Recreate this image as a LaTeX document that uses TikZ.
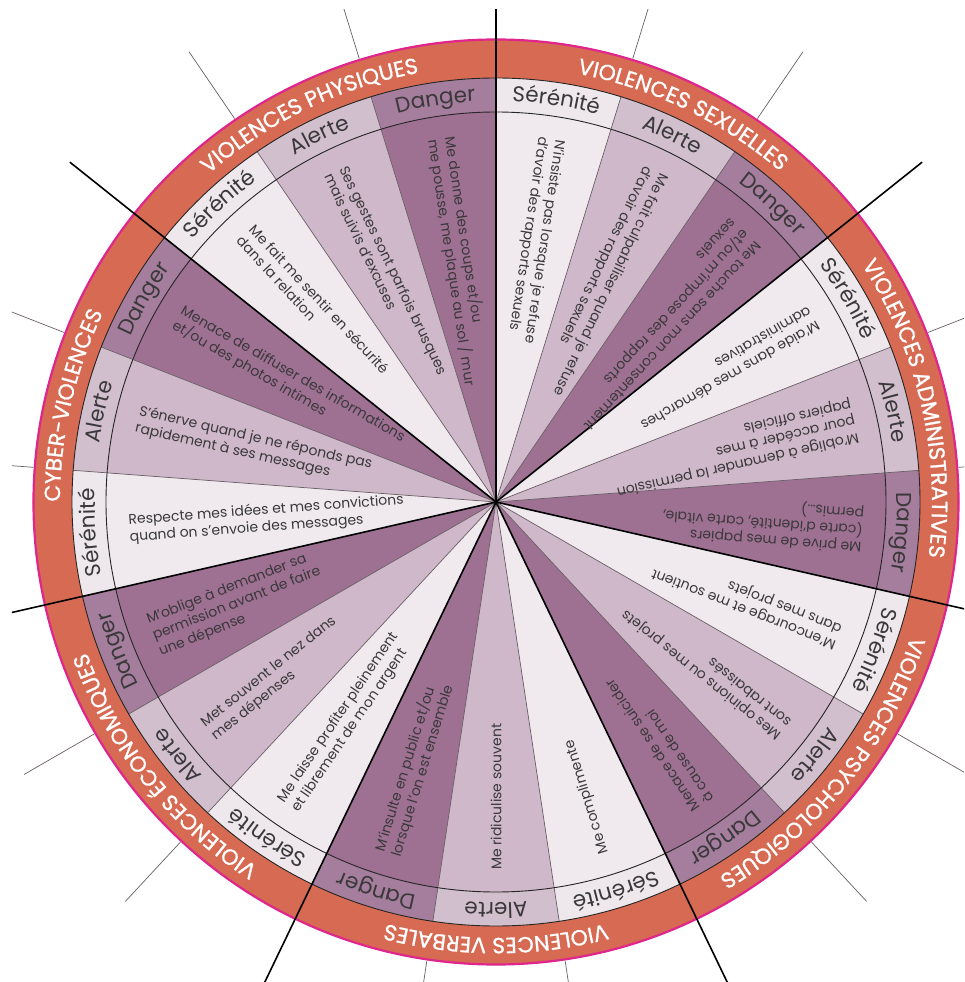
\documentclass[tikz,border=0pt]{standalone}
\usepackage{fontspec}
\setmainfont{Poppins}
\newfontfamily\catfam{Poppins}[FakeBold=1]
\usetikzlibrary{decorations.text}
\definecolor{ringorange}{RGB}{214,106,82}
\definecolor{ringpink}{RGB}{222,38,140}
\definecolor{wdark}{RGB}{158,113,147}
\definecolor{wlight}{RGB}{206,184,201}
\definecolor{wwhite}{RGB}{240,234,239}
\definecolor{ldark}{RGB}{164,126,156}
\definecolor{llight}{RGB}{210,191,206}
\definecolor{lwhite}{RGB}{238,232,237}
\definecolor{txtgray}{RGB}{58,56,58}
\definecolor{sublinegray}{RGB}{105,95,103}
\newcommand\catfnt{\catfam\fontsize{22}{22}\selectfont\color{white}}
\newcommand\labfnt{\fontsize{21.5}{21.5}\selectfont\color{txtgray}}
\newcommand\wedgetext[3]{%
  \pgfmathsetmacro\wang{90+(#1+0.5)*360/21}%
  \node[itext, rotate=\wang+180] (#2) at (\wang:368) {#3};}
\newcommand\cattext[2]{%
  \pgfmathsetmacro\cS{90+#1*360/7}%
  \pgfmathsetmacro\cE{90+(#1+1)*360/7}%
  \path[decorate, decoration={text along path, text align=center, text={|\catfnt|#2}}]
    (\cE:436) arc[start angle=\cE, end angle=\cS, radius=436];}
\newcommand\labtext[2]{%
  \pgfmathsetmacro\lS{90+#1*360/21}%
  \pgfmathsetmacro\lE{90+(#1+1)*360/21}%
  \path[decorate, decoration={text along path, text align=center, text={|\labfnt|#2}}]
    (\lE:401) arc[start angle=\lE, end angle=\lS, radius=401];}
\begin{document}
\begin{tikzpicture}[x=1pt,y=1pt,
  itext/.style={anchor=west, align=left, inner sep=0pt, text=txtgray, font=\fontsize{14}{17}\selectfont},
  catline/.style={line width=1.6pt, draw=black},
  subline/.style={line width=0.7pt, draw=sublinegray}]
\useasboundingbox (-496,-480) rectangle (468,502);
\clip (-484,-480) rectangle (468,492);
% outer orange disc
\fill[ringorange] (0,0) circle[radius=463];
% wedges and label ring
\foreach \n in {0,...,20}{
  \pgfmathtruncatemacro\sj{mod(\n,3)}
  \pgfmathsetmacro\aS{90+\n*360/21}
  \pgfmathsetmacro\aE{90+(\n+1)*360/21}
  \ifcase\sj \def\wc{wdark}\def\lc{ldark}\or \def\wc{wlight}\def\lc{llight}\or \def\wc{wwhite}\def\lc{lwhite}\fi
  \fill[\lc] (\aS:390) arc[start angle=\aS, end angle=\aE, radius=390] -- (\aE:424) arc[start angle=\aE, end angle=\aS, radius=424] -- cycle;
  \fill[\wc] (0,0) -- (\aS:390) arc[start angle=\aS, end angle=\aE, radius=390] -- cycle;
}
% sub boundaries
\foreach \n in {0,...,20}{
  \pgfmathtruncatemacro\sj{mod(\n,3)}
  \pgfmathsetmacro\aS{90+\n*360/21}
  \ifnum\sj>0
    \draw[subline] (0,0) -- (\aS:424);
    \draw[subline] (\aS:464) -- (\aS:545);
  \fi
}
% rings
\draw[line width=0.9pt, black!85] (0,0) circle[radius=390];
\draw[line width=0.9pt, black!85] (0,0) circle[radius=424];
\draw[ringpink, line width=2.2pt] (0,0) circle[radius=462.5];
% category boundaries
\foreach \k in {0,...,6}{
  \pgfmathsetmacro\aS{90+\k*360/7}
  \draw[catline] (0,0) -- (\aS:545);
}
% category names
\cattext{0}{VIOLENCES PHYSIQUES}
\cattext{1}{CYBER-VIOLENCES}
\cattext{2}{VIOLENCES ÉCONOMIQUES}
\cattext{3}{VIOLENCES VERBALES}
\cattext{4}{VIOLENCES PSYCHOLOGIQUES}
\cattext{5}{VIOLENCES ADMINISTRATIVES}
\cattext{6}{VIOLENCES SEXUELLES}
% level labels
\foreach \n in {0,...,20}{
  \pgfmathtruncatemacro\sj{mod(\n,3)}
  \ifcase\sj \labtext{\n}{Danger}\or \labtext{\n}{Alerte}\or \labtext{\n}{Sérénité}\fi
}
% wedge texts
\wedgetext{0}{t0}{Me donne des coups et/ou\\me pousse, me plaque au sol / mur}
\wedgetext{1}{t1}{Ses gestes sont parfois brusques\\mais suivis d’excuses}
\wedgetext{2}{t2}{Me fait me sentir en sécurité\\dans la relation}
\wedgetext{3}{t3}{Menace de diffuser des informations\\et/ou des photos intimes}
\wedgetext{4}{t4}{S’énerve quand je ne réponds pas\\rapidement à ses messages}
\wedgetext{5}{t5}{Respecte mes idées et mes convictions\\quand on s’envoie des messages}
\wedgetext{6}{t6}{M’oblige à demander sa\\permission avant de faire\\une dépense}
\wedgetext{7}{t7}{Met souvent le nez dans\\mes dépenses}
\wedgetext{8}{t8}{Me laisse profiter pleinement\\et librement de mon argent}
\wedgetext{9}{t9}{M’insulte en public et/ou\\lorsque l’on est ensemble}
\wedgetext{10}{t10}{Me ridiculise souvent}
\wedgetext{11}{t11}{Me complimente}
\wedgetext{12}{t12}{Menace de se suicider\\à cause de moi}
\wedgetext{13}{t13}{Mes opinions ou mes projets\\sont rabaissés}
\wedgetext{14}{t14}{M’encourage et me soutient\\dans mes projets}
\wedgetext{15}{t15}{Me prive de mes papiers\\(carte d’identité, carte vitale,\\permis…)}
\wedgetext{16}{t16}{M’oblige à demander la permission\\pour accéder à mes\\papiers officiels}
\wedgetext{17}{t17}{M’aide dans mes démarches\\administratives}
\wedgetext{18}{t18}{Me touche sans mon consentement\\et/ou m’impose des rapports\\sexuels}
\wedgetext{19}{t19}{Me fait culpabiliser quand je refuse\\d’avoir des rapports sexuels}
\wedgetext{20}{t20}{N’insiste pas lorsque je refuse\\d’avoir des rapports sexuels}
\end{tikzpicture}
\end{document}
